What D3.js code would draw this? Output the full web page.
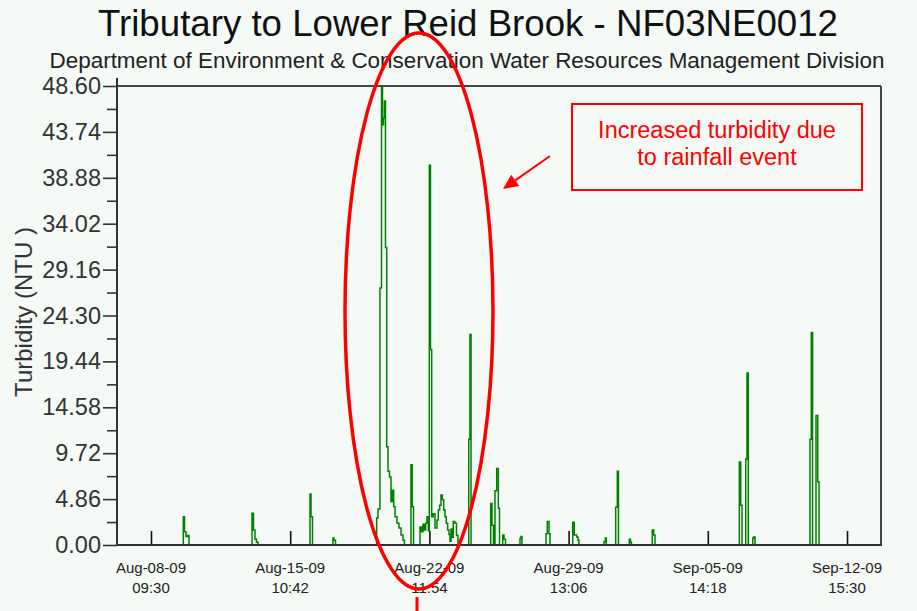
<!DOCTYPE html>
<html><head><meta charset="utf-8">
<script src="https://cdn.jsdelivr.net/npm/d3@7"></script>
<style>
html,body{margin:0;padding:0;background:#f5faf6;}
svg{display:block;font-family:"Liberation Sans",Arial,sans-serif;}
</style>
</head><body>
<svg id="chart" width="917" height="611"></svg>
<script>
// ---------- data ----------
const title = "Tributary to Lower Reid Brook - NF03NE0012";
const subtitle = "Department of Environment & Conservation Water Resources Management Division";
const yLabel = "Turbidity (NTU )";
const annotationLines = ["Increased turbidity due", "to rainfall event"];
const recordStart = Date.UTC(2009, 7, 8, 9, 30);     // Aug-08-09 09:30
const domainHours = [-41.3, 887.3];                   // hours relative to recordStart
const tickHours = [0, 169.2, 338.4, 507.6, 676.8, 846.0];
const yTicks = [0, 4.86, 9.72, 14.58, 19.44, 24.30, 29.16, 34.02, 38.88, 43.74, 48.60];
const yMax = 48.60;

const hours = [
  -41.3,
  38.3, 39.3, 40.7, 42.5, 44.4, 46.2,
  121.6, 122.8, 124.6, 126.4, 128.2, 130.1,
  192.0, 193.3, 194.5, 196.3,
  220.0, 221.2, 222.4, 224.3,
  272.9, 274.3, 275.9, 278.3, 280.2, 281.4, 282.6, 283.8, 285.0, 286.5, 288.1, 289.9, 291.7, 293.3, 295.0, 296.6, 299.0, 301.4, 303.9, 306.3, 308.1,
  314.8, 316.0, 317.5, 319.1,
  325.8, 327.0, 328.8, 330.6, 332.2, 333.9, 335.5, 337.1, 338.3, 339.7, 341.2, 343.1, 345.2, 347.6, 349.2, 350.9, 352.5, 354.1, 355.8, 357.4, 358.9, 360.6, 362.2, 363.4, 364.7, 366.2, 367.4, 369.5, 371.3, 373.2,
  385.0, 386.2, 387.7, 389.0,
  411.7, 412.9, 414.5, 416.3, 418.1, 420.2, 422.2, 423.6,
  426.6, 427.5, 429.1, 430.9,
  447.3, 448.5, 449.7, 450.9,
  478.9, 480.1, 481.7, 483.8, 485.0,
  511.4, 512.6, 514.5, 517.4, 519.0, 520.2,
  549.4, 550.6, 552.2, 553.4,
  563.6, 564.8, 566.8, 568.2,
  580.2, 581.4, 582.8, 584.0,
  608.1, 609.3, 611.0, 612.6,
  713.9, 715.1, 716.8, 718.4, 721.6, 722.9, 724.4, 726.0,
  730.2, 731.4, 732.6, 734.2,
  799.8, 801.0, 802.6, 804.1, 807.1, 808.3, 810.4, 812.0,
  887.3
];
const turbidity = [
  0,
  0, 3.0, 1.4, 0.9, 1.0, 0,
  0, 3.35, 1.6, 0.6, 0.3, 0,
  0, 5.4, 3.0, 0,
  0, 0.75, 0.5, 0,
  0, 2.85, 3.8, 27.2, 48.6, 44.5, 45.2, 47.0, 31.5, 10.4, 7.8, 7.2, 4.6, 5.8, 4.05, 3.0, 2.3, 1.8, 1.06, 0.5, 0,
  0, 8.5, 4.05, 0,
  0, 1.9, 1.4, 2.2, 1.6, 2.3, 3.0, 1.5, 40.2, 20.7, 3.0, 3.3, 1.8, 2.65, 3.7, 4.2, 5.3, 4.8, 3.7, 3.0, 2.3, 1.6, 1.1, 0.4, 1.7, 0.8, 2.5, 2.3, 1.0, 0,
  0, 11.2, 22.3, 0,
  0, 4.4, 2.1, 0, 5.75, 8.1, 3.9, 0,
  0, 1.06, 0.6, 0,
  0, 0.7, 0.9, 0,
  0, 1.2, 2.5, 1.2, 0,
  0, 2.4, 1.06, 0.85, 0.5, 0,
  0, 0.35, 0.75, 0,
  0, 4.0, 7.8, 0,
  0, 0.6, 0.3, 0,
  0, 1.6, 1.06, 0,
  0, 8.8, 4.2, 0, 0, 9.1, 18.2, 0,
  0, 0.75, 0.85, 0,
  0, 11.2, 22.5, 0, 0, 13.7, 6.7, 0,
  0
];

// ---------- layout ----------
const W = 917, H = 611;
const plot = {left: 117, right: 881, top: 86, bottom: 545};
const toDate = h => new Date(recordStart + h * 3600e3);

const svg = d3.select("#chart");
svg.append("rect").attr("width", W).attr("height", H).attr("fill", "#f5faf6");

const x = d3.scaleUtc().domain(domainHours.map(toDate)).range([plot.left, plot.right]);
const y = d3.scaleLinear().domain([0, yMax]).range([plot.bottom, plot.top]);

// titles
svg.append("text").attr("x", 468).attr("y", 36).attr("text-anchor", "middle")
  .attr("font-size", 36.5).attr("fill", "#111").attr("textLength", 740).attr("lengthAdjust", "spacingAndGlyphs")
  .text(title);
svg.append("text").attr("x", 467).attr("y", 68).attr("text-anchor", "middle")
  .attr("font-size", 21.5).attr("fill", "#222").attr("textLength", 835).attr("lengthAdjust", "spacingAndGlyphs")
  .text(subtitle);

// clip
svg.append("clipPath").attr("id", "clip").append("rect")
  .attr("x", plot.left).attr("y", plot.top - 2).attr("width", plot.right - plot.left).attr("height", plot.bottom - plot.top + 2);

// data series
const series = hours.map((h, i) => ({t: toDate(h), v: turbidity[i]}));
const line = d3.line().x(d => x(d.t)).y(d => y(d.v)).curve(d3.curveStepAfter);
svg.append("path").datum(series).attr("clip-path", "url(#clip)")
  .attr("d", line).attr("fill", "none").attr("stroke", "#008000").attr("stroke-width", 1.5);

// y axis major ticks
const yAxis = d3.axisLeft(y).tickValues(yTicks).tickSize(14).tickPadding(2).tickFormat(d3.format(".2f"));
const gy = svg.append("g").attr("transform", `translate(${plot.left},0)`).call(yAxis);
gy.select(".domain").remove();
gy.selectAll(".tick line").attr("stroke", "#333").attr("stroke-width", 1.6);
gy.selectAll(".tick text").attr("font-size", 23.5).attr("fill", "#333")
  .attr("font-family", '"Liberation Sans",Arial,sans-serif');
// y minor ticks
const minor = d3.pairs(yTicks).map(([a, b]) => (a + b) / 2);
const gym = svg.append("g").attr("transform", `translate(${plot.left},0)`)
  .call(d3.axisLeft(y).tickValues(minor).tickSize(10).tickFormat(""));
gym.select(".domain").remove();
gym.selectAll(".tick line").attr("stroke", "#333").attr("stroke-width", 1.6);

// x axis ticks (pointing up inside the plot)
const xTicks = tickHours.map(toDate);
const gx = svg.append("g").attr("transform", `translate(0,${plot.bottom})`)
  .call(d3.axisBottom(x).tickValues(xTicks).tickSizeInner(-14).tickSizeOuter(0).tickFormat(""));
gx.select(".domain").remove();
gx.selectAll(".tick line").attr("stroke", "#111").attr("stroke-width", 1.6);
const fDate = d3.utcFormat("%b-%d-%y"), fTime = d3.utcFormat("%H:%M");
const lbl = svg.append("g").attr("font-size", 15).attr("fill", "#222").attr("text-anchor", "middle");
xTicks.forEach(d => {
  lbl.append("text").attr("x", x(d)).attr("y", 573).text(fDate(d));
  lbl.append("text").attr("x", x(d)).attr("y", 593).text(fTime(d));
});

// frame
const frame = svg.append("g").attr("stroke", "#444").attr("stroke-width", 2).attr("fill", "none");
frame.append("line").attr("x1", plot.left).attr("x2", plot.right).attr("y1", plot.top).attr("y2", plot.top);
frame.append("line").attr("x1", plot.right).attr("x2", plot.right).attr("y1", plot.top).attr("y2", plot.bottom);
frame.append("line").attr("x1", plot.left).attr("x2", plot.right + 1).attr("y1", plot.bottom).attr("y2", plot.bottom).attr("stroke", "#333");
frame.append("line").attr("x1", plot.left).attr("x2", plot.left).attr("y1", plot.top - 8).attr("y2", plot.bottom + 1).attr("stroke", "#333");

// y label
svg.append("text").attr("transform", "translate(32,312) rotate(-90)").attr("text-anchor", "middle")
  .attr("font-size", 24).attr("fill", "#333").text(yLabel);

// annotations
const red = "#ff0000";
svg.append("ellipse").attr("cx", 419).attr("cy", 311).attr("rx", 74).attr("ry", 278)
  .attr("fill", "none").attr("stroke", red).attr("stroke-width", 3.5);
svg.append("line").attr("x1", 417).attr("x2", 417).attr("y1", 597).attr("y2", 611)
  .attr("stroke", red).attr("stroke-width", 3);
svg.append("rect").attr("x", 572).attr("y", 104).attr("width", 290).attr("height", 86)
  .attr("fill", "none").attr("stroke", red).attr("stroke-width", 2);
annotationLines.forEach((t, i) => {
  svg.append("text").attr("x", 717).attr("y", 138 + i * 26.5).attr("text-anchor", "middle")
    .attr("font-size", 23.5).attr("fill", red).text(t);
});
// arrow
const a0 = [550, 156], a1 = [503, 189];
const ang = Math.atan2(a1[1] - a0[1], a1[0] - a0[0]);
const hl = 15, hw = 7;
const base = [a1[0] - hl * Math.cos(ang), a1[1] - hl * Math.sin(ang)];
svg.append("line").attr("x1", a0[0]).attr("y1", a0[1]).attr("x2", base[0]).attr("y2", base[1])
  .attr("stroke", red).attr("stroke-width", 2);
svg.append("polygon").attr("fill", red).attr("points", [
  a1,
  [base[0] + hw * Math.sin(ang), base[1] - hw * Math.cos(ang)],
  [base[0] - hw * Math.sin(ang), base[1] + hw * Math.cos(ang)]
].map(p => p.join(",")).join(" "));
</script>
</body></html>
